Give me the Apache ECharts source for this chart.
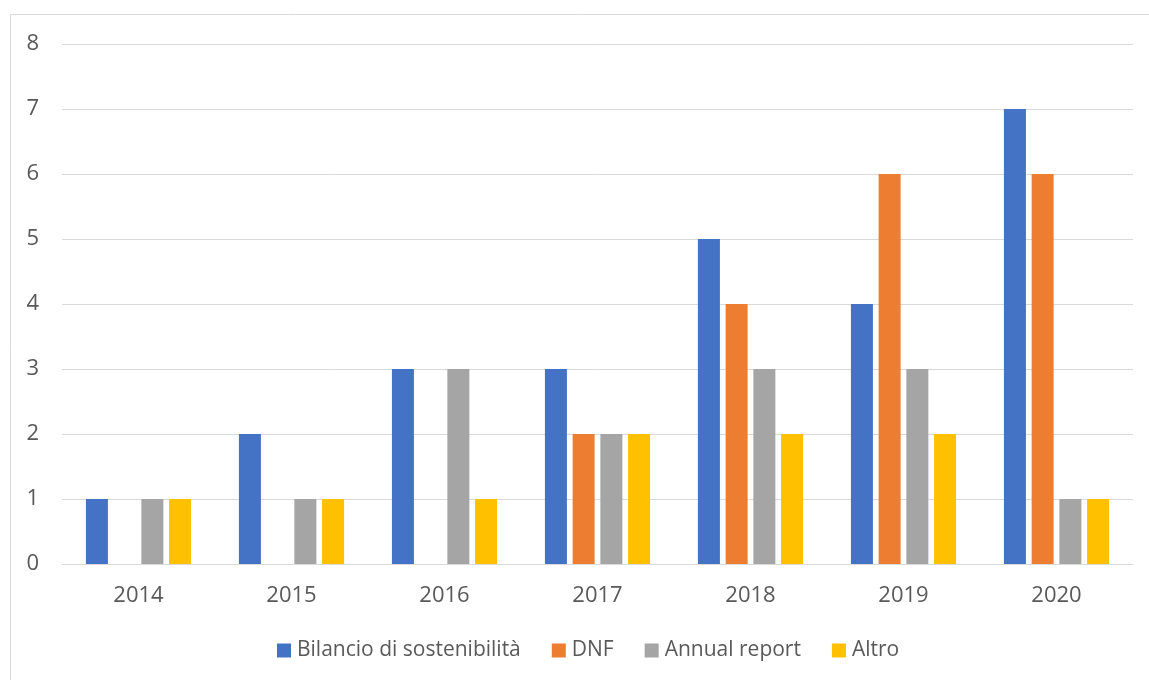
<!DOCTYPE html>
<html><head><meta charset="utf-8">
<script src="https://cdn.jsdelivr.net/npm/echarts@6/dist/echarts.min.js"></script>
<style>html,body{margin:0;padding:0;background:#fff}#c{width:1149px;height:680px}</style>
</head><body><div id="c"></div>
<script>
const years = ['2014','2015','2016','2017','2018','2019','2020'];
const bilancio = [1,2,3,3,5,4,7];
const dnf = [0,0,0,2,4,6,6];
const annual = [1,1,3,2,3,3,1];
const altro = [1,1,1,2,2,2,1];
const seriesNames = ['Bilancio di sostenibilità','DNF','Annual report','Altro'];
const colors = ['#4472C4','#ED7D31','#A5A5A5','#FFC000'];
const yTicks = [0,1,2,3,4,5,6,7,8];

const chart = echarts.init(document.getElementById('c'), null, {renderer:'canvas'});
const font = "'Open Sans', 'Noto Sans', sans-serif";
const data = [bilancio, dnf, annual, altro];
chart.setOption({
  animation:false,
  graphic:[{type:'rect',shape:{x:10.5,y:14.5,width:1200,height:700},style:{fill:'none',stroke:'#d9d9d9',lineWidth:1}}],
  grid:{left:62,right:16,top:44,bottom:116},
  legend:{bottom:19,left:277,padding:0,itemWidth:14,itemHeight:14,itemGap:31,icon:'rect',
    textStyle:{color:'#595959',fontSize:21,fontFamily:font,padding:[0,0,0,1]},
    data:seriesNames},
  xAxis:{type:'category',data:years,axisTick:{show:false},
    axisLine:{lineStyle:{color:'#d9d9d9',width:1}},
    axisLabel:{color:'#595959',fontSize:22,fontFamily:font,margin:21}},
  yAxis:{type:'value',min:yTicks[0],max:yTicks[yTicks.length-1],interval:1,
    axisLine:{show:false},axisTick:{show:false},
    splitLine:{lineStyle:{color:'#d9d9d9',width:1}},
    axisLabel:{color:'#595959',fontSize:22,fontFamily:font,margin:23}},
  series:seriesNames.map((n,i)=>({name:n,type:'bar',data:data[i],barWidth:22,barGap:'26%',
    itemStyle:{color:colors[i]}}))
});
</script></body></html>
